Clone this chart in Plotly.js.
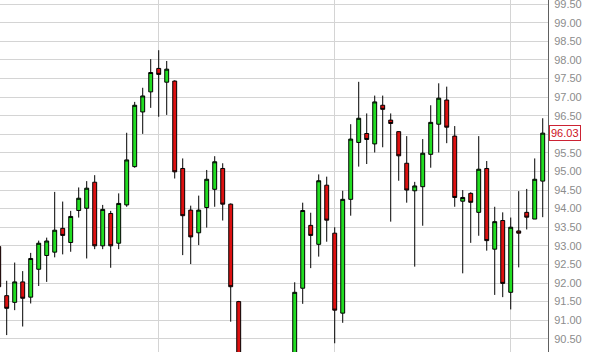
<!DOCTYPE html>
<html>
<head>
<meta charset="utf-8">
<script src="https://cdn.plot.ly/plotly-3.0.1.min.js"></script>
<style>
html,body{margin:0;padding:0;background:#fff;}
#chart{width:590px;height:352px;}
</style>
</head>
<body>
<div id="chart"></div>
<script>
// Candle index (session number); sessions 31-36 fall below the visible price range
var idx = [0,1,2,3,4,5,6,7,8,9,10,11,12,13,14,15,16,17,18,19,20,21,22,23,24,25,26,27,28,29,30,
           37,38,39,40,41,42,43,44,45,46,47,48,49,50,51,52,53,54,55,56,57,58,59,60,61,62,63,64,65,66,67,68];
var openP  = [92.98,91.66,91.48,92.03,91.62,92.37,92.74,92.83,93.47,93.09,93.95,94.01,94.71,93.00,93.87,93.07,94.10,95.13,96.60,97.14,97.77,97.40,97.43,95.08,93.96,93.35,94.03,94.52,95.08,94.12,91.50,
              90.00,91.86,93.55,93.04,94.63,93.34,91.19,94.25,95.78,96.02,95.74,96.78,96.38,96.07,95.22,94.48,94.59,95.46,96.27,96.92,95.95,94.20,94.41,93.90,95.08,92.91,93.68,91.75,93.40,93.90,93.72,94.74];
var highP  = [93.00,92.06,92.55,92.32,92.81,93.14,93.22,94.45,94.19,93.94,94.57,94.74,94.90,94.10,93.94,94.41,96.04,96.87,97.25,98.02,98.26,97.97,97.45,95.35,94.08,94.35,95.04,95.41,95.22,94.14,91.52,
              92.02,94.16,93.89,94.92,94.86,93.50,94.48,96.27,97.41,96.56,97.04,97.04,96.56,96.08,95.95,94.72,95.87,96.78,97.37,97.28,96.22,94.50,94.44,95.95,95.28,94.05,93.90,93.76,94.47,94.53,95.35,96.43];
var lowP   = [91.85,90.60,91.27,90.83,91.45,91.92,92.03,92.69,92.77,92.84,93.76,92.66,92.91,92.91,92.41,92.91,94.05,95.10,96.01,96.71,96.47,96.52,94.81,92.75,92.51,93.02,93.49,94.05,93.68,90.96,89.80,
              89.90,91.44,92.40,92.71,93.11,90.38,90.93,93.81,95.13,95.20,95.51,95.65,93.65,94.75,94.16,92.44,93.54,95.10,95.51,95.76,94.05,92.26,93.08,93.27,92.87,91.68,91.62,91.29,92.42,93.44,93.72,93.77];
var closeP = [91.90,91.32,92.03,91.59,92.66,93.07,93.13,93.42,93.28,93.79,94.28,94.55,93.00,93.98,93.00,94.14,95.31,96.78,97.03,97.66,97.61,97.75,94.99,93.81,93.24,93.96,94.79,95.26,94.12,91.90,89.90,
              91.75,93.95,93.28,94.75,93.69,91.27,94.25,95.87,96.43,95.86,96.87,96.67,96.29,95.42,94.50,94.61,95.49,96.32,96.97,96.19,94.30,94.30,94.17,95.06,93.14,93.65,91.99,93.50,93.34,93.77,94.79,96.03];
var priceTicks = [90.5,91,91.5,92,92.5,93,93.5,94,94.5,95,95.5,96,96.5,97,97.5,98,98.5,99,99.5];
var lastPrice = closeP[closeP.length-1];
// the last-price tag covers the 96.00 label, as in the source chart
var priceTickText = priceTicks.map(function(v){ return Math.abs(v - lastPrice) < 0.2 ? '' : v.toFixed(2); });
var monthLines = [20,42,64];

var trace = {
  type: 'candlestick',
  x: idx, open: openP, high: highP, low: lowP, close: closeP,
  increasing: {line: {color: '#000000', width: 1}, fillcolor: '#22dd22'},
  decreasing: {line: {color: '#000000', width: 1}, fillcolor: '#dd1111'},
  whiskerwidth: 0,
  hoverinfo: 'skip'
};

var layout = {
  width: 590, height: 352,
  margin: {l: 0, r: 42, t: 0, b: 0, pad: 0},
  paper_bgcolor: '#ffffff', plot_bgcolor: '#ffffff',
  showlegend: false,
  xaxis: {
    range: [0.1625, 68.66],
    rangeslider: {visible: false},
    tickvals: monthLines, showticklabels: false, ticks: '',
    showgrid: true, gridcolor: '#d4d4d4', gridwidth: 1,
    zeroline: false, showline: false, fixedrange: true
  },
  yaxis: {
    side: 'right',
    range: [90.145, 99.61],
    tickvals: priceTicks, ticktext: priceTickText,
    tickfont: {family: 'Arial, Liberation Sans, sans-serif', size: 11, color: '#8c8c8c'},
    ticks: '', ticklabelstandoff: 3, ticklabeloverflow: 'allow',
    showgrid: true, gridcolor: '#d4d4d4', gridwidth: 1,
    zeroline: false, showline: true, linecolor: '#606060', linewidth: 1,
    fixedrange: true
  },
  annotations: [{
    xref: 'paper', yref: 'y', x: 1, y: lastPrice,
    xanchor: 'left', yanchor: 'middle', xshift: 1,
    text: lastPrice.toFixed(2), showarrow: false,
    font: {family: 'Arial, Liberation Sans, sans-serif', size: 11, color: '#cc1122'},
    bgcolor: '#ffffff', bordercolor: '#cc2233', borderwidth: 1, borderpad: 1
  }]
};

Plotly.newPlot('chart', [trace], layout, {staticPlot: true, displayModeBar: false});
</script>
</body>
</html>
